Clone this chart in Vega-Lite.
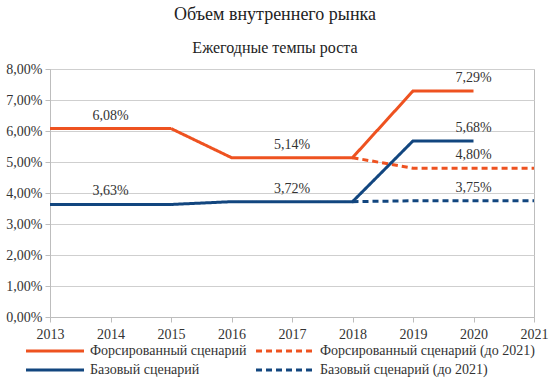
{
  "$schema": "https://vega.github.io/schema/vega-lite/v6.json",
  "width": 484,
  "height": 248,
  "autosize": "none",
  "padding": {"left": 50, "top": 69, "right": 16, "bottom": 67},
  "background": "white",
  "title": {
    "text": "Объем внутреннего рынка",
    "subtitle": "Ежегодные темпы роста",
    "anchor": "middle",
    "frame": "group",
    "dx": -17,
    "offset": 6,
    "font": "Liberation Serif",
    "fontSize": 18,
    "fontWeight": "normal",
    "color": "#222",
    "subtitleFont": "Liberation Serif",
    "subtitleFontSize": 16,
    "subtitleColor": "#222",
    "subtitlePadding": 16
  },
  "config": {
    "font": "Liberation Serif",
    "view": {"stroke": "#bdbdbd", "strokeWidth": 1},
    "axis": {
      "labelFont": "Liberation Serif",
      "labelFontSize": 14,
      "labelColor": "#333",
      "domainColor": "#bdbdbd",
      "tickColor": "#bdbdbd",
      "gridColor": "#cfcfcf",
      "tickSize": 5,
      "labelOverlap": false
    },
    "legend": {
      "labelFont": "Liberation Serif",
      "labelFontSize": 14,
      "labelColor": "#333",
      "labelLimit": 0
    }
  },
  "datasets": {
    "lines": [
      {"year": 2013, "value": 0.0608, "series": "Форсированный сценарий"},
      {"year": 2014, "value": 0.0608, "series": "Форсированный сценарий"},
      {"year": 2015, "value": 0.0608, "series": "Форсированный сценарий"},
      {"year": 2016, "value": 0.0514, "series": "Форсированный сценарий"},
      {"year": 2017, "value": 0.0514, "series": "Форсированный сценарий"},
      {"year": 2018, "value": 0.0514, "series": "Форсированный сценарий"},
      {"year": 2019, "value": 0.0729, "series": "Форсированный сценарий"},
      {"year": 2020, "value": 0.0729, "series": "Форсированный сценарий"},
      {"year": 2018, "value": 0.0514, "series": "Форсированный сценарий (до 2021)"},
      {"year": 2019, "value": 0.0480, "series": "Форсированный сценарий (до 2021)"},
      {"year": 2020, "value": 0.0480, "series": "Форсированный сценарий (до 2021)"},
      {"year": 2021, "value": 0.0480, "series": "Форсированный сценарий (до 2021)"},
      {"year": 2013, "value": 0.0363, "series": "Базовый сценарий"},
      {"year": 2014, "value": 0.0363, "series": "Базовый сценарий"},
      {"year": 2015, "value": 0.0363, "series": "Базовый сценарий"},
      {"year": 2016, "value": 0.0372, "series": "Базовый сценарий"},
      {"year": 2017, "value": 0.0372, "series": "Базовый сценарий"},
      {"year": 2018, "value": 0.0372, "series": "Базовый сценарий"},
      {"year": 2019, "value": 0.0568, "series": "Базовый сценарий"},
      {"year": 2020, "value": 0.0568, "series": "Базовый сценарий"},
      {"year": 2018, "value": 0.0372, "series": "Базовый сценарий (до 2021)"},
      {"year": 2019, "value": 0.0375, "series": "Базовый сценарий (до 2021)"},
      {"year": 2020, "value": 0.0375, "series": "Базовый сценарий (до 2021)"},
      {"year": 2021, "value": 0.0375, "series": "Базовый сценарий (до 2021)"}
    ],
    "labels": [
      {"year": 2014, "value": 0.0608, "label": "6,08%"},
      {"year": 2017, "value": 0.0514, "label": "5,14%"},
      {"year": 2020, "value": 0.0729, "label": "7,29%"},
      {"year": 2014, "value": 0.0363, "label": "3,63%"},
      {"year": 2017, "value": 0.0372, "label": "3,72%"},
      {"year": 2020, "value": 0.0568, "label": "5,68%"},
      {"year": 2020, "value": 0.0480, "label": "4,80%"},
      {"year": 2020, "value": 0.0375, "label": "3,75%"}
    ]
  },
  "encoding": {
    "x": {
      "field": "year",
      "type": "quantitative",
      "scale": {"domain": [2013, 2021], "nice": false, "zero": false},
      "axis": {
        "title": null,
        "values": [2013, 2014, 2015, 2016, 2017, 2018, 2019, 2020, 2021],
        "format": "d",
        "grid": false,
        "labelPadding": 5,
        "labelFlush": false,
        "labelOverlap": false,
        "labelFont": "Liberation Serif"
      }
    },
    "y": {
      "field": "value",
      "type": "quantitative",
      "scale": {"domain": [0, 0.08], "nice": false},
      "axis": {
        "title": null,
        "values": [0, 0.01, 0.02, 0.03, 0.04, 0.05, 0.06, 0.07, 0.08],
        "labelExpr": "replace(format(datum.value, '.2%'), '.', ',')",
        "labelPadding": 3,
        "labelOverlap": false,
        "labelFont": "Liberation Serif"
      }
    }
  },
  "layer": [
    {
      "data": {"name": "lines"},
      "mark": {"type": "line", "strokeWidth": 3},
      "encoding": {
        "color": {
          "field": "series",
          "type": "nominal",
          "scale": {
            "domain": ["Форсированный сценарий", "Форсированный сценарий (до 2021)", "Базовый сценарий", "Базовый сценарий (до 2021)"],
            "range": ["#ee5220", "#ee5220", "#12467f", "#12467f"]
          },
          "legend": {
            "title": null,
            "orient": "none",
            "direction": "horizontal",
            "columns": 2,
            "legendX": -26,
            "legendY": 275,
            "symbolType": "M-1,0H10.6",
            "symbolSize": 100,
            "symbolStrokeWidth": 3,
            "rowPadding": 5,
            "columnPadding": 3,
            "labelOffset": 52
          }
        },
        "strokeDash": {
          "field": "series",
          "type": "nominal",
          "scale": {
            "domain": ["Форсированный сценарий", "Форсированный сценарий (до 2021)", "Базовый сценарий", "Базовый сценарий (до 2021)"],
            "range": [[1, 0], [6, 4], [1, 0], [6, 4]]
          },
          "legend": null
        }
      }
    },
    {
      "data": {"name": "labels"},
      "mark": {"type": "text", "dy": -13, "font": "Liberation Serif", "fontSize": 14, "color": "#333"},
      "encoding": {
        "text": {"field": "label"}
      }
    }
  ]
}
